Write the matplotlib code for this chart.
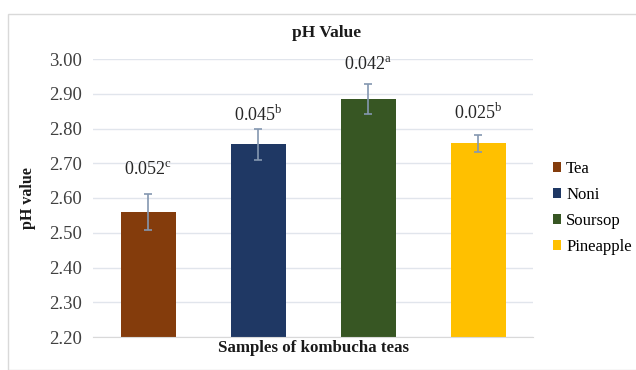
import matplotlib.pyplot as plt
from matplotlib.patches import Rectangle

plt.rcParams['font.family'] = ['Liberation Serif', 'DejaVu Serif']
plt.rcParams['mathtext.fontset'] = 'custom'
plt.rcParams['mathtext.rm'] = 'Liberation Serif'

samples = ['Tea', 'Noni', 'Soursop', 'Pineapple']
ph_values = [2.56, 2.755, 2.885, 2.757]
sd_values = [0.052, 0.045, 0.042, 0.025]
letters = ['c', 'b', 'a', 'b']
colors = ['#843C0C', '#1F3864', '#375623', '#FFC000']
label_offsets = [17, 9.5, 14, 16]  # points above the error bar to label centre

fig = plt.figure(figsize=(6.36, 3.70), dpi=100)
fig.patches.append(Rectangle((8 / 636, 0), 1, 1 - 14 / 370, transform=fig.transFigure,
                             facecolor='white', edgecolor='#d9d9d9', linewidth=1.0, zorder=-5))
ax = fig.add_axes([93 / 636, 1 - 337 / 370, 440 / 636, 278 / 370])
ax.patch.set_alpha(0)

x = range(len(samples))
bars = ax.bar(x, ph_values, width=0.5, color=colors, zorder=2,
              yerr=sd_values, error_kw=dict(ecolor='#8497B0', elinewidth=1.2, capsize=3, capthick=1.2))

for i in x:
    ax.annotate(f'{sd_values[i]:.3f}' + r'$^{\mathrm{' + letters[i] + '}}$',
                (i, ph_values[i] + sd_values[i]), xytext=(0, label_offsets[i]),
                textcoords='offset points', ha='center', va='center', fontsize=13, color='#262626')

ax.set_ylim(2.2, 3.0)
ax.set_xlim(-0.5, 3.5)
ax.set_yticks([2.2 + 0.1 * k for k in range(9)])
ax.set_yticklabels([f'{2.2 + 0.1 * k:.2f}' for k in range(9)], fontsize=13.5, color='#404040')
ax.set_xticks([])
ax.grid(axis='y', color='#e1e5ec', linewidth=1.0, zorder=0)
ax.tick_params(axis='y', length=0, pad=8)
for side in ['left', 'right', 'top']:
    ax.spines[side].set_visible(False)
ax.spines['bottom'].set_color('#d9d9d9')

fig.text(327 / 636, 1 - 33 / 370, 'pH Value', fontsize=12.5, fontweight='bold',
         ha='center', va='center', color='#1a1a1a')
ax.set_ylabel('pH value', fontsize=11.5, fontweight='bold', color='#1a1a1a')
ax.yaxis.set_label_coords(-0.13, 0.5)
ax.set_xlabel('Samples of kombucha teas', fontsize=12.2, fontweight='bold', labelpad=2,
              color='#1a1a1a')

ax.legend(handles=list(bars), labels=samples, loc='center left', bbox_to_anchor=(1.03, 0.464),
          frameon=False, fontsize=12, handlelength=0.5, handleheight=0.5, handletextpad=0.3,
          labelspacing=0.6, borderaxespad=0)

fig.savefig('out.png', dpi=100)
